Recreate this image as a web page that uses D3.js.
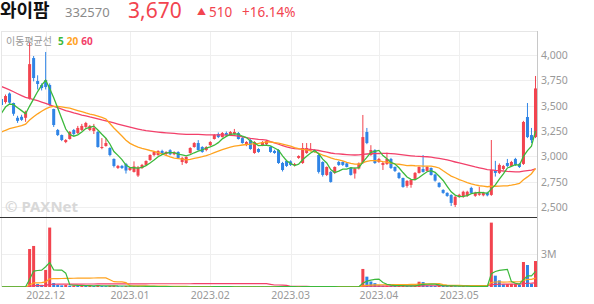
<!DOCTYPE html>
<html>
<head>
<meta charset="utf-8">
<script src="https://cdn.jsdelivr.net/npm/d3@7"></script>
<style>
	body { margin: 0; background: #fff; }
	svg { display: block; font-family: "Noto Sans", "Noto Sans CJK KR", sans-serif; }
</style>
</head>
<body>
<svg id="chart"></svg>
<script>
let width = 594;
let height = 304;

const stockName = "와이팜";
const stockCode = "332570";
const lastPrice = "3,670";
const change = "510";
const changePct = "+16.14%";

// daily candles, 2022-11 .. 2023-05
const opens = [
	3566, 3536, 3620, 3526, 3380, 3390, 3380, 3570, 3970, 3743,
	3704, 3753, 3704, 3467, 3260, 3210, 3141, 3171, 3260, 3230,
	3260, 3290, 3260, 3250, 3240, 3082, 3102, 3082, 2974, 2885,
	2905, 2925, 2865, 2846, 2810, 2885, 2915, 2964, 3013, 3013,
	3053, 3023, 3060, 3020, 3043, 2944, 2934, 3033, 3092, 3131,
	3092, 3062, 3111, 3171, 3220, 3190, 3230, 3210, 3220, 3230,
	3180, 3111, 3161, 3033, 3072, 3111, 3120, 3092, 3053, 3062,
	2934, 2954, 2950, 2914, 2984, 2934, 3033, 3060, 3062, 3013,
	2944, 2816, 2846, 2836, 2944, 2944, 2930, 2885, 2830, 2880,
	2934, 3240, 3013, 3062, 2944, 2915, 2925, 2974, 2895, 2836,
	2786, 2708, 2718, 2777, 2836, 2875, 2856, 2885, 2820, 2737,
	2668, 2639, 2619, 2520, 2600, 2600, 2610, 2688, 2610, 2620,
	2615, 2640, 2619, 2865, 2836, 2875, 2934, 2905, 2974, 2925,
	2925, 3388, 3210, 3190
];
const highs = [
	3590, 3610, 3630, 3530, 3400, 3410, 3450, 4120, 3990, 3800,
	3720, 4030, 3720, 3470, 3270, 3215, 3170, 3250, 3270, 3300,
	3320, 3340, 3310, 3320, 3250, 3180, 3180, 3090, 2980, 2915,
	2915, 2935, 2895, 2950, 2905, 2925, 2960, 3020, 3050, 3060,
	3065, 3050, 3070, 3050, 3050, 2995, 3000, 3090, 3140, 3160,
	3100, 3100, 3150, 3220, 3235, 3240, 3245, 3250, 3270, 3240,
	3190, 3150, 3170, 3150, 3080, 3150, 3160, 3100, 3065, 3070,
	2945, 2965, 2960, 2935, 3010, 3131, 3131, 3131, 3070, 3020,
	2950, 2900, 2855, 2900, 2955, 2950, 2940, 2890, 2890, 2940,
	3408, 3280, 3110, 3070, 2985, 2945, 3036, 2985, 2900, 2845,
	2790, 2765, 2775, 2845, 2900, 3013, 2905, 2890, 2830, 2745,
	2675, 2645, 2625, 2610, 2630, 2660, 2660, 2700, 2650, 2698,
	2650, 2650, 3161, 2955, 2930, 2915, 2974, 2955, 2985, 2935,
	3350, 3526, 3280, 3793
];
const lows = [
	3480, 3520, 3520, 3400, 3330, 3350, 3340, 3560, 3740, 3660,
	3650, 3660, 3500, 3290, 3200, 3150, 3130, 3165, 3200, 3220,
	3250, 3280, 3250, 3220, 3085, 3070, 3095, 3000, 2890, 2875,
	2875, 2830, 2855, 2840, 2796, 2875, 2905, 2955, 3000, 3005,
	3015, 3010, 3010, 3010, 2975, 2915, 2925, 3025, 3085, 3055,
	3035, 3050, 3100, 3165, 3180, 3185, 3200, 3200, 3215, 3165,
	3125, 3100, 3065, 3025, 3035, 3100, 3110, 3035, 3025, 2925,
	2850, 2895, 2905, 2900, 2975, 2925, 3025, 3050, 3035, 2830,
	2800, 2805, 2740, 2825, 2905, 2905, 2890, 2810, 2780, 2870,
	2925, 3120, 3005, 2925, 2935, 2865, 2915, 2875, 2845, 2775,
	2690, 2690, 2690, 2770, 2830, 2840, 2850, 2810, 2750, 2690,
	2630, 2600, 2510, 2500, 2590, 2590, 2600, 2630, 2600, 2610,
	2605, 2605, 2610, 2800, 2825, 2865, 2895, 2895, 2905, 2885,
	2915, 3180, 3131, 3180
];
const closes = [
	3506, 3595, 3530, 3420, 3350, 3360, 3440, 3910, 3773, 3714,
	3674, 3684, 3506, 3309, 3210, 3161, 3161, 3240, 3220, 3280,
	3300, 3329, 3300, 3280, 3092, 3092, 3131, 3013, 2905, 2905,
	2885, 2860, 2885, 2900, 2890, 2915, 2954, 3013, 3043, 3053,
	3023, 3043, 3020, 3040, 2984, 2984, 2994, 3082, 3131, 3062,
	3043, 3092, 3141, 3210, 3190, 3230, 3210, 3240, 3240, 3171,
	3131, 3141, 3072, 3141, 3043, 3141, 3150, 3043, 3033, 2934,
	2865, 2905, 2915, 2924, 3003, 3082, 3082, 3072, 3043, 2846,
	2816, 2895, 2747, 2895, 2915, 2915, 2895, 2816, 2880, 2930,
	3190, 3131, 3062, 2934, 2974, 2934, 2974, 2885, 2856, 2786,
	2698, 2757, 2767, 2836, 2895, 2846, 2895, 2816, 2760, 2698,
	2639, 2609, 2540, 2600, 2620, 2650, 2650, 2639, 2640, 2635,
	2640, 2615, 2865, 2836, 2915, 2905, 2905, 2944, 2915, 2895,
	3339, 3190, 3160, 3670
];
const volumes = [
	20000, 30000, 25000, 20000, 15000, 20000, 30000, 3450000, 3730000, 270000,
	200000, 1550000, 5400000, 360000, 200000, 150000, 180000, 120000, 140000, 110000,
	130000, 100000, 120000, 90000, 150000, 100000, 80000, 110000, 130000, 70000,
	60000, 90000, 50000, 70000, 80000, 40000, 50000, 60000, 40000, 30000,
	20000, 25000, 20000, 30000, 25000, 20000, 15000, 30000, 25000, 20000,
	15000, 20000, 25000, 60000, 30000, 20000, 25000, 15000, 20000, 25000,
	20000, 15000, 25000, 30000, 20000, 25000, 20000, 15000, 20000, 50000,
	30000, 20000, 15000, 20000, 25000, 80000, 30000, 20000, 25000, 60000,
	30000, 20000, 25000, 20000, 15000, 20000, 25000, 20000, 30000, 25000,
	1640000, 940000, 500000, 350000, 150000, 120000, 130000, 110000, 100000, 120000,
	130000, 90000, 80000, 100000, 480000, 450000, 150000, 120000, 100000, 110000,
	90000, 80000, 120000, 70000, 60000, 80000, 60000, 50000, 40000, 60000,
	50000, 40000, 5850000, 1030000, 600000, 250000, 270000, 280000, 300000, 200000,
	2270000, 2000000, 300000, 2360000
];
// closes before the visible window (estimated), needed for the 20/60 averages
const priorCloses = [
	4600, 4550, 4500, 4520, 4480, 4450, 4500, 4470, 4420, 4450, 4480, 4460,
	4100, 4050, 4000, 3980, 3950, 3920, 3900, 3930, 3880, 3890,
	3800, 3750, 3700, 3650, 3620, 3580, 3550, 3520, 3500, 3480, 3450, 3420,
	3400, 3380, 3350, 3330, 3300, 3280,
	3250, 3220, 3200, 3180, 3150, 3130, 3120, 3100, 3150, 3170, 3200, 3180,
	3160, 3200, 3250,
	3300, 3380, 3450, 3500
];

const monthLabels = ["2022.12", "2023.01", "2023.02", "2023.03", "2023.04", "2023.05"];
const monthStarts = [11, 32, 52, 72, 94, 114];
const priceTicks = [2500, 2750, 3000, 3250, 3500, 3750, 4000];
const volumeTicks = [3000000];
const maPeriods = [5, 20, 60];
const maColours = ["#3cb93c", "#ffa31f", "#f2406a"];

const upColour = "#f2444f";
const downColour = "#2f84e6";

const plotLeft = 2;
const plotRight = 537;
const priceTop = 31;
const priceBottom = 217;
const volTop = 218;
const volBottom = 287;

function priceMA(period) {
	var all = priorCloses.concat(closes);
	var offset = priorCloses.length;
	return closes.map((c, i) => d3.mean(all.slice(offset + i - period + 1, offset + i + 1)));
}

function volumeMA(period) {
	return volumes.map((v, i) => d3.sum(volumes.slice(Math.max(0, i - period + 1), i + 1)) / period);
}

function draw() {
	const svg = d3.select("#chart");
	svg.selectAll("*").remove();
	svg.attr("width", width).attr("height", height);

	const idx = d3.range(closes.length);

	const x = d3.scaleBand().domain(idx).range([0, plotRight]).paddingInner(0.25).paddingOuter(0);
	const cx = (i) => x(i) + x.bandwidth() / 2;
	const y = d3.scaleLinear().domain([2401, 4237]).range([priceBottom, priceTop]);
	const yv = d3.scaleLinear().domain([0, 6270000]).range([volBottom, volTop]);

	const defs = svg.append("defs");
	defs.append("clipPath").attr("id", "priceClip")
		.append("rect").attr("x", plotLeft).attr("y", priceTop)
		.attr("width", plotRight - plotLeft).attr("height", priceBottom - priceTop);
	defs.append("clipPath").attr("id", "volClip")
		.append("rect").attr("x", plotLeft).attr("y", volTop)
		.attr("width", plotRight - plotLeft).attr("height", volBottom - volTop);

	// header
	const header = svg.append("g");
	header.append("text").attr("x", 0).attr("y", 17)
		.style("font-family", '"Noto Sans CJK KR"').style("font-size", "18px").style("font-weight", "bold")
		.attr("fill", "#111").text(stockName);
	header.append("text").attr("x", 65).attr("y", 17)
		.style("font-size", "13px").attr("fill", "#8a8a8a").text(stockCode);
	header.append("text").attr("x", 128).attr("y", 18)
		.style("font-size", "21px").attr("fill", upColour).text(lastPrice);
	header.append("text").attr("x", 197).attr("y", 15)
		.style("font-size", "9px").attr("fill", upColour).text("▲");
	header.append("text").attr("x", 209).attr("y", 17)
		.style("font-size", "13.5px").attr("fill", upColour).text(change);
	header.append("text").attr("x", 242).attr("y", 17)
		.style("font-size", "13.5px").attr("fill", upColour).text(changePct);

	// grid
	const grid = svg.append("g");
	grid.selectAll("line.h")
		.data(priceTicks)
		.enter()
		.append("line")
		.attr("x1", plotLeft).attr("x2", plotRight)
		.attr("y1", (d) => Math.round(y(d)) + 0.5).attr("y2", (d) => Math.round(y(d)) + 0.5)
		.attr("stroke", "#efefef");
	grid.selectAll("line.v")
		.data(monthStarts)
		.enter()
		.append("line")
		.attr("x1", (d) => Math.round(cx(d)) + 0.5).attr("x2", (d) => Math.round(cx(d)) + 0.5)
		.attr("y1", priceTop).attr("y2", volBottom)
		.attr("stroke", "#efefef");
	grid.selectAll("line.vol")
		.data(volumeTicks)
		.enter()
		.append("line")
		.attr("x1", plotLeft).attr("x2", plotRight)
		.attr("y1", (d) => Math.round(yv(d)) + 0.5).attr("y2", (d) => Math.round(yv(d)) + 0.5)
		.attr("stroke", "#efefef");
	grid.append("line").attr("x1", plotLeft).attr("x2", plotRight)
		.attr("y1", priceTop + 0.5).attr("y2", priceTop + 0.5).attr("stroke", "#e6e6e6");
	grid.append("line").attr("x1", plotLeft - 0.5).attr("x2", plotLeft - 0.5)
		.attr("y1", priceTop).attr("y2", volBottom).attr("stroke", "#e6e6e6");

	// legend
	const legend = svg.append("text").attr("x", 6).attr("y", 45).style("font-size", "10px");
	legend.append("tspan").style("font-family", '"Noto Sans CJK KR"').attr("fill", "#999").text("이동평균선");
	maPeriods.forEach((p, k) => {
		legend.append("tspan").attr("dx", k == 0 ? 6 : 3).attr("fill", maColours[k])
			.style("font-weight", "bold").text(p);
	});

	// watermark
	svg.append("text").attr("x", 5).attr("y", 212)
		.style("font-size", "15px").style("font-weight", "bold").attr("fill", "#d8d8d8")
		.text("© PAXNet");

	// candles
	const candles = svg.append("g").attr("clip-path", "url(#priceClip)");
	const colour = (i) => (closes[i] >= opens[i] ? upColour : downColour);

	candles.selectAll("line")
		.data(idx)
		.enter()
		.append("line")
		.attr("x1", (i) => cx(i)).attr("x2", (i) => cx(i))
		.attr("y1", (i) => y(highs[i])).attr("y2", (i) => y(lows[i]))
		.attr("stroke", colour).attr("stroke-width", 1);

	candles.selectAll("rect")
		.data(idx)
		.enter()
		.append("rect")
		.attr("x", (i) => x(i))
		.attr("width", x.bandwidth())
		.attr("y", (i) => y(Math.max(opens[i], closes[i])))
		.attr("height", (i) => Math.max(1, Math.abs(y(opens[i]) - y(closes[i]))))
		.attr("fill", colour);

	// price moving averages
	const maLine = d3.line().x((d, i) => cx(i)).y((d) => y(d));
	const maGroup = svg.append("g").attr("clip-path", "url(#priceClip)");
	maPeriods.slice().reverse().forEach((p) => {
		var k = maPeriods.indexOf(p);
		maGroup.append("path")
			.datum(priceMA(p))
			.attr("d", maLine)
			.attr("fill", "none")
			.attr("stroke", maColours[k])
			.attr("stroke-width", 1.3);
	});

	// volume bars
	const vols = svg.append("g").attr("clip-path", "url(#volClip)");
	vols.selectAll("rect")
		.data(idx)
		.enter()
		.append("rect")
		.attr("x", (i) => x(i))
		.attr("width", x.bandwidth())
		.attr("y", (i) => yv(volumes[i]))
		.attr("height", (i) => volBottom - yv(volumes[i]))
		.attr("fill", (i) => (i == 0 || volumes[i] >= volumes[i - 1] ? upColour : downColour));

	const vLine = d3.line().x((d, i) => cx(i)).y((d) => yv(d));
	maPeriods.slice().reverse().forEach((p) => {
		var k = maPeriods.indexOf(p);
		vols.append("path")
			.datum(volumeMA(p))
			.attr("d", vLine)
			.attr("fill", "none")
			.attr("stroke", maColours[k])
			.attr("stroke-width", 1.2);
	});

	// panel separator and right axis line
	svg.append("line").attr("x1", 0).attr("x2", plotRight)
		.attr("y1", priceBottom + 0.5).attr("y2", priceBottom + 0.5)
		.attr("stroke", "#333");
	svg.append("line").attr("x1", plotRight + 0.5).attr("x2", plotRight + 0.5)
		.attr("y1", priceTop).attr("y2", volBottom)
		.attr("stroke", "#c8c8c8");

	// axes
	const priceAxis = svg.append("g")
		.attr("transform", `translate(${plotRight},0)`)
		.call(d3.axisRight(y).tickValues(priceTicks).tickSize(0).tickPadding(4).tickFormat(d3.format(",")));
	const volAxis = svg.append("g")
		.attr("transform", `translate(${plotRight},0)`)
		.call(d3.axisRight(yv).tickValues(volumeTicks).tickSize(0).tickPadding(4).tickFormat((d) => d / 1000000 + "M"));
	const timeAxis = svg.append("g")
		.attr("transform", `translate(0,${volBottom})`)
		.call(d3.axisBottom(x).tickValues(monthStarts).tickSize(0).tickPadding(5)
			.tickFormat((d) => monthLabels[monthStarts.indexOf(d)]));

	[priceAxis, volAxis, timeAxis].forEach((g) => {
		g.select(".domain").remove();
		g.selectAll("text").attr("fill", "#999").style("font-size", "10.5px").style("font-family", '"Noto Sans", sans-serif');
	});
}

draw();
</script>
</body>
</html>
